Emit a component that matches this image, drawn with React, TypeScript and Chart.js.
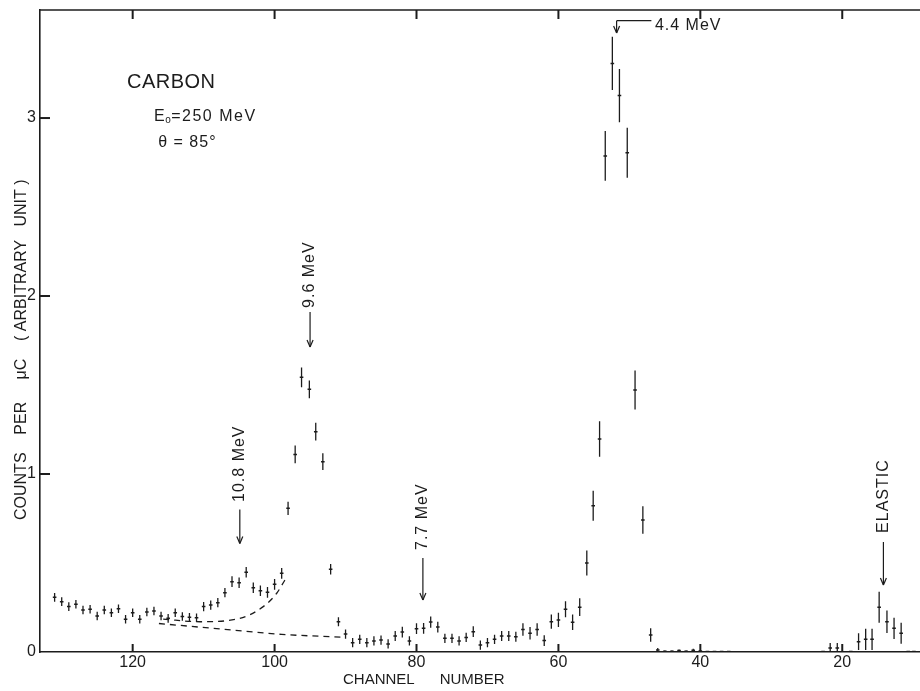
import React, { useEffect, useRef } from "react";
import { Chart, registerables } from "chart.js";

Chart.register(...registerables);

// ---- data ----
const channels = [
  131, 130, 129, 128, 127, 126, 125, 124, 123, 122, 121, 120, 119, 118, 117, 116, 115, 114, 113, 112, 111,
  110, 109, 108, 107, 106, 105, 104, 103, 102, 101, 100, 99, 98.1, 97.1, 96.2, 95.1, 94.2, 93.2, 92.1, 91,
  90, 89, 88, 87, 86, 85, 84, 83, 82, 81, 80, 79, 78, 77, 76, 75, 74, 73, 72, 71, 70, 69, 68, 67, 66,
  65, 64, 63, 62, 61, 60, 59, 58, 57, 56, 55.1, 54.2, 53.4, 52.4, 51.4, 50.3, 49.2, 48.1, 47, 46,
  45, 44, 43, 42, 41, 40, 39, 38, 37, 36, 22.7, 21.7, 20.7, 18.8, 17.7, 16.7, 15.8, 14.8, 13.7, 12.7,
  11.7, 10.7, 9.9,
];
const counts = [
  0.307, 0.283, 0.255, 0.268, 0.236, 0.24, 0.202, 0.236, 0.221, 0.243, 0.184, 0.221, 0.184, 0.225, 0.23, 0.202, 0.189, 0.221, 0.199, 0.195, 0.193,
  0.255, 0.264, 0.277, 0.333, 0.395, 0.389, 0.448, 0.361, 0.344, 0.335, 0.38, 0.442, 0.807, 1.11, 1.543, 1.476, 1.238, 1.069, 0.465, 0.17,
  0.101, 0.052, 0.071, 0.052, 0.062, 0.067, 0.045, 0.09, 0.112, 0.062, 0.131, 0.133, 0.168, 0.14, 0.077, 0.077, 0.062, 0.082, 0.114, 0.039, 0.052, 0.071, 0.09, 0.09, 0.086,
  0.127, 0.105, 0.127, 0.064, 0.17, 0.18, 0.24, 0.167, 0.252, 0.5, 0.822, 1.197, 2.787, 3.307, 3.126, 2.805, 1.472, 0.742, 0.096, 0.011,
  0.004, 0.004, 0.008, 0.004, 0.01, 0.006, 0.003, 0.003, 0.003, 0.003, 0.003, 0.022, 0.022, 0.003, 0.058, 0.071, 0.071, 0.251, 0.17, 0.133,
  0.105, 0.003, 0.003,
];
const errors = [
  0.024, 0.024, 0.024, 0.024, 0.024, 0.024, 0.024, 0.024, 0.024, 0.024, 0.024, 0.024, 0.024, 0.024, 0.024, 0.024, 0.024, 0.024, 0.024, 0.024, 0.024,
  0.026, 0.026, 0.026, 0.026, 0.03, 0.03, 0.03, 0.03, 0.03, 0.03, 0.03, 0.03, 0.037, 0.05, 0.056, 0.05, 0.05, 0.047, 0.03, 0.025,
  0.026, 0.026, 0.026, 0.026, 0.026, 0.026, 0.026, 0.028, 0.03, 0.026, 0.03, 0.03, 0.032, 0.03, 0.026, 0.026, 0.026, 0.026, 0.03, 0.026, 0.026, 0.026, 0.028, 0.028, 0.028,
  0.035, 0.035, 0.035, 0.03, 0.04, 0.04, 0.045, 0.043, 0.05, 0.07, 0.084, 0.1, 0.14, 0.15, 0.15, 0.14, 0.11, 0.077, 0.038, 0.012,
  0.004, 0.004, 0.006, 0.004, 0.008, 0.005, 0.003, 0.003, 0.003, 0.003, 0.003, 0.028, 0.028, 0.003, 0.047, 0.06, 0.06, 0.087, 0.063, 0.06,
  0.059, 0.003, 0.003,
];

const xTickValues = [120, 100, 80, 60, 40, 20];
const yTickValues = [0, 1, 2, 3];

// dashed background estimates
const upperBgChannels = [115.7, 110.5, 104.9, 101.6, 99.7, 98.55];
const upperBgValues = [0.185, 0.17, 0.189, 0.255, 0.33, 0.404];
const lowerBgChannels = [116.3, 107, 99, 90.2];
const lowerBgValues = [0.16, 0.127, 0.099, 0.083];

// peak annotations (rotated labels with down arrows)
const peakLabels = ["10.8 MeV", "9.6 MeV", "7.7 MeV", "ELASTIC"];
const peakChannels = [104.9, 95.0, 79.1, 14.2];
const peakTextStart = [0.843, 1.933, 0.573, 0.669];
const peakArrowTop = [0.8, 1.91, 0.528, 0.618];
const peakArrowTip = [0.61, 1.713, 0.292, 0.376];

const INK = "#1c1c1c";
const FONT = "'Liberation Sans', Arial, Helvetica, sans-serif";

const decor = {
  id: "decor",
  afterDraw(chart: any) {
    const { ctx, chartArea: a, scales } = chart;
    const X = (v: number) => scales.x.getPixelForValue(v);
    const Y = (v: number) => scales.y.getPixelForValue(v);
    ctx.save();
    ctx.strokeStyle = INK;
    ctx.fillStyle = INK;
    const seg = (x1: number, y1: number, x2: number, y2: number, w: number) => {
      ctx.lineWidth = w;
      ctx.beginPath();
      ctx.moveTo(x1, y1);
      ctx.lineTo(x2, y2);
      ctx.stroke();
    };
    // top frame line
    seg(a.left, a.top, a.right, a.top, 1.6);
    // inward tick marks
    for (const v of xTickValues) {
      const px = X(v);
      seg(px, a.bottom, px, a.bottom - 8, 2);
      seg(px, a.top, px, a.top + 9, 2);
    }
    for (const v of yTickValues) {
      if (v <= 0) continue;
      const py = Y(v);
      seg(a.left, py, a.left + 10, py, 2);
    }
    const arrowDown = (px: number, y1: number, y2: number) => {
      seg(px, y1, px, y2, 1.2);
      seg(px - 3, y2 - 7, px, y2, 1.2);
      seg(px + 3, y2 - 7, px, y2, 1.2);
    };
    ctx.font = `16px ${FONT}`;
    ctx.letterSpacing = "1px";
    peakLabels.forEach((lab, i) => {
      const px = X(peakChannels[i]);
      arrowDown(px, Y(peakArrowTop[i]), Y(peakArrowTip[i]));
      ctx.save();
      ctx.translate(px, Y(peakTextStart[i]));
      ctx.rotate(-Math.PI / 2);
      ctx.textAlign = "left";
      ctx.textBaseline = "middle";
      ctx.fillText(lab, 0, 0);
      ctx.restore();
    });
    // 4.4 MeV bracket arrow
    const bx1 = X(46.9), bx2 = X(51.8), by = Y(3.547);
    seg(bx1, by, bx2, by, 1.2);
    arrowDown(bx2, by, Y(3.478));
    ctx.textAlign = "left";
    ctx.textBaseline = "middle";
    ctx.fillText("4.4 MeV", X(46.4), Y(3.52));

    // sample info
    ctx.letterSpacing = "0.5px";
    ctx.font = `20px ${FONT}`;
    ctx.fillText("CARBON", X(120.8), Y(3.2));
    ctx.font = `16px ${FONT}`;
    let ex = X(117.0);
    const ey = Y(3.006);
    ctx.fillText("E", ex, ey);
    ex += ctx.measureText("E").width;
    ctx.font = `10px ${FONT}`;
    ctx.fillText("o", ex, ey + 3);
    ex += ctx.measureText("o").width;
    ctx.font = `16px ${FONT}`;
    ctx.letterSpacing = "1.5px";
    ctx.fillText("=250 MeV", ex, ey);
    ctx.letterSpacing = "1px";
    ctx.fillText("θ = 85°", X(116.4), Y(2.86));

    // axis titles
    ctx.letterSpacing = "0px";
    ctx.font = `15px ${FONT}`;
    ctx.textBaseline = "middle";
    ctx.fillText("CHANNEL      NUMBER", a.left + 303, 680);
    ctx.font = `16px ${FONT}`;
    ctx.save();
    ctx.translate(22, 520);
    ctx.rotate(-Math.PI / 2);
    ctx.fillText("COUNTS    PER     μC    ( ARBITRARY   UNIT )", 0, 0);
    ctx.restore();
    ctx.restore();
  },
};

export default function App() {
  const ref = useRef<HTMLCanvasElement>(null);
  useEffect(() => {
    const canvas = ref.current;
    if (!canvas) return;
    const points = channels.map((c, i) => ({ x: c, y: counts[i] }));
    const bars: any[] = [];
    channels.forEach((c, i) => {
      bars.push({ x: c, y: counts[i] - errors[i] });
      bars.push({ x: c, y: counts[i] + errors[i] });
      bars.push({ x: c, y: null });
    });
    const upper = upperBgChannels.map((c, i) => ({ x: c, y: upperBgValues[i] }));
    const lower = lowerBgChannels.map((c, i) => ({ x: c, y: lowerBgValues[i] }));
    const noPad = (s: any) => {
      s.paddingTop = 0;
      s.paddingBottom = 0;
      s.paddingLeft = 0;
      s.paddingRight = 0;
    };
    const chart = new Chart(canvas, {
      type: "line",
      data: {
        datasets: [
          {
            label: "error",
            data: bars,
            borderColor: INK,
            borderWidth: 1.3,
            pointRadius: 0,
            spanGaps: false,
            fill: false,
          },
          {
            label: "counts",
            data: points,
            showLine: false,
            pointStyle: "line",
            pointRadius: 1.8,
            borderColor: INK,
            backgroundColor: INK,
            borderWidth: 1.5,
          },
          {
            label: "upper background",
            data: upper,
            borderColor: INK,
            borderWidth: 1.3,
            borderDash: [6, 5],
            pointRadius: 0,
            cubicInterpolationMode: "monotone",
            fill: false,
          },
          {
            label: "lower background",
            data: lower,
            borderColor: INK,
            borderWidth: 1.3,
            borderDash: [6, 5],
            pointRadius: 0,
            cubicInterpolationMode: "monotone",
            fill: false,
          },
        ],
      } as any,
      options: {
        animation: false,
        responsive: false,
        maintainAspectRatio: false,
        layout: { padding: { top: 10, right: 5, left: 0, bottom: 0 } },
        plugins: { legend: { display: false }, tooltip: { enabled: false } },
        scales: {
          x: {
            type: "linear",
            reverse: true,
            min: 7.0,
            max: 133.06,
            afterBuildTicks: (s: any) => {
              s.ticks = xTickValues.map((v) => ({ value: v }));
            },
            afterFit: (s: any) => {
              s.height = 39;
              noPad(s);
            },
            grid: { display: false, drawTicks: false },
            border: { display: true, color: INK, width: 1.6 },
            ticks: { color: INK, font: { family: FONT, size: 16 }, padding: 1, maxRotation: 0, autoSkip: false },
          },
          y: {
            type: "linear",
            min: 0,
            max: 3.607,
            afterBuildTicks: (s: any) => {
              s.ticks = yTickValues.map((v) => ({ value: v }));
            },
            afterFit: (s: any) => {
              s.width = 40;
              noPad(s);
            },
            grid: { display: false, drawTicks: false },
            border: { display: true, color: INK, width: 1.6 },
            ticks: { color: INK, font: { family: FONT, size: 16 }, padding: 4 },
          },
        },
      } as any,
      plugins: [decor],
    });
    return () => chart.destroy();
  }, []);
  return (
    <div
      style={{
        position: "fixed",
        left: 0,
        top: 0,
        width: 920,
        height: 691,
        overflow: "hidden",
        background: "#fff",
      }}
    >
      <canvas ref={ref} width={940} height={691} style={{ display: "block" }} />
    </div>
  );
}
